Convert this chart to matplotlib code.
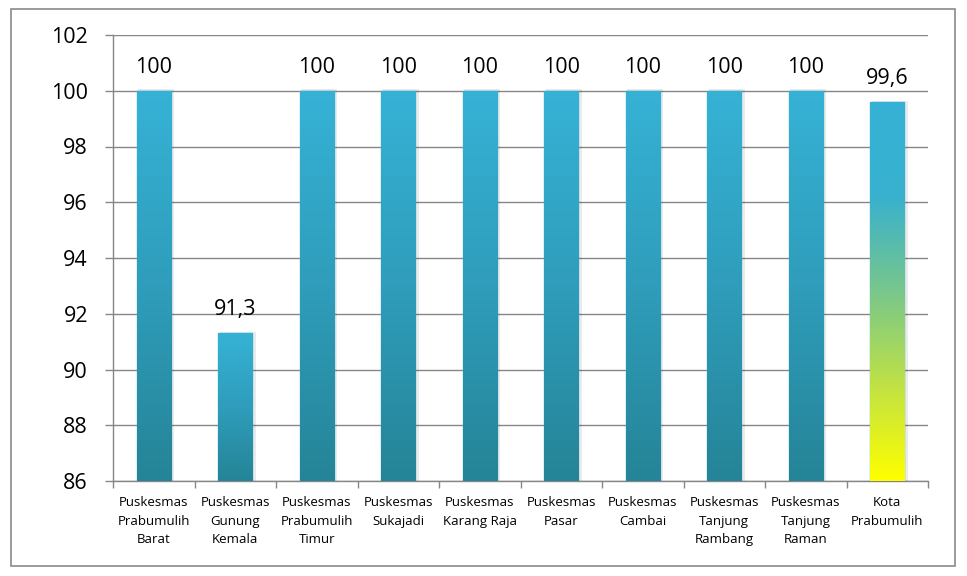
import matplotlib.pyplot as plt
import numpy as np
from matplotlib.colors import LinearSegmentedColormap
from matplotlib.patches import Rectangle

plt.rcParams['font.family'] = ['Open Sans', 'DejaVu Sans']

# data
categories = ["Puskesmas\nPrabumulih\nBarat", "Puskesmas\nGunung\nKemala",
              "Puskesmas\nPrabumulih\nTimur", "Puskesmas\nSukajadi",
              "Puskesmas\nKarang Raja", "Puskesmas\nPasar", "Puskesmas\nCambai",
              "Puskesmas\nTanjung\nRambang", "Puskesmas\nTanjung\nRaman",
              "Kota\nPrabumulih"]
values = [100, 91.3, 100, 100, 100, 100, 100, 100, 100, 99.6]
y_min, y_max = 86, 102

W, H = 967, 576
fig = plt.figure(figsize=(W / 100, H / 100), dpi=100)
ax = fig.add_axes([113 / W, 1 - 481 / H, (928 - 113) / W, (481 - 35) / H])

# outer frame
fig.patches.append(Rectangle((11 / W, 1 - 566 / H), (955 - 11) / W, (566 - 9) / H,
                             transform=fig.transFigure, fill=False,
                             edgecolor='#8a8a8a', linewidth=1.2))

blue = LinearSegmentedColormap.from_list('blue', ['#258497', '#2f9dbb', '#36b2d6'])
kota = LinearSegmentedColormap.from_list(
    'kota', [(0.0, '#ffff00'), (0.25, '#c0e244'), (0.5, '#78c78c'),
             (0.75, '#38b1ce'), (1.0, '#36b2d6')])

x = np.arange(len(categories))
bars = ax.bar(x, values, width=0.42, bottom=0, color='none',
              edgecolor='#4bb8d8', linewidth=1.0, zorder=3)

grad = np.linspace(0, 1, 256).reshape(-1, 1)
for i, (b, v) in enumerate(zip(bars, values)):
    cmap = kota if i == len(values) - 1 else blue
    bx, bw = b.get_x(), b.get_width()
    # soft shadow
    ax.add_patch(Rectangle((bx + 0.02, y_min), bw + 0.02, v - y_min + 0.05,
                           facecolor='#000000', alpha=0.08, edgecolor='none', zorder=2))
    im = ax.imshow(grad, cmap=cmap, origin='lower', aspect='auto',
                   extent=[bx, bx + bw, y_min, v], zorder=3)
    im.set_clip_path(b)
    ax.text(b.get_x() + bw / 2, v + 0.65, f"{v:g}".replace('.', ','),
            ha='center', va='baseline', fontsize=15.5, color='black', zorder=4)

ax.set_xlim(-0.5, len(categories) - 0.5)
ax.set_ylim(y_min, y_max)
ax.set_yticks(np.arange(y_min, y_max + 1, 2))
ax.tick_params(axis='y', labelsize=15.5, length=6, width=1, color='#868686', pad=12)
ax.set_xticks(x)
ax.set_xticklabels(categories, fontsize=9.5, linespacing=1.55)
ax.tick_params(axis='x', length=0, pad=11)
ax.set_xticks(np.arange(-0.5, len(categories)), minor=True)
ax.tick_params(axis='x', which='minor', length=5, width=1, color='#868686')

ax.grid(axis='y', color='#868686', linewidth=1.0, zorder=0)
ax.set_axisbelow(True)
for s in ['top', 'right']:
    ax.spines[s].set_visible(False)
for s in ['left', 'bottom']:
    ax.spines[s].set_color('#868686')
    ax.spines[s].set_linewidth(1.0)

fig.savefig('out.png', dpi=100)
